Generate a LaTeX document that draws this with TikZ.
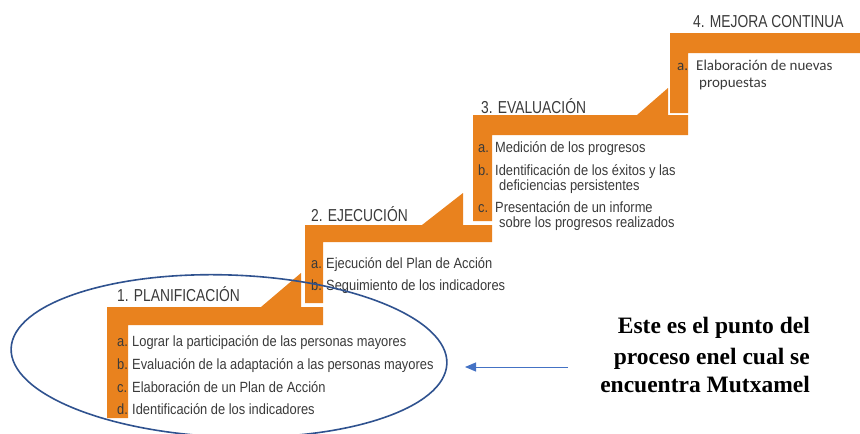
\documentclass[tikz,border=0pt]{standalone}
\usepackage{fontspec}
\setmainfont{Liberation Sans}
\newfontfamily\stairfont[FakeStretch=0.87]{Liberation Sans}
\newfontfamily\stairtitlefont[FakeStretch=0.80]{Liberation Sans}
\newfontfamily\lastfont{Carlito}
\newfontfamily\notefont{Liberation Serif}
\usetikzlibrary{arrows.meta}
\definecolor{stairorange}{RGB}{233,130,30}
\definecolor{stairtext}{RGB}{58,58,58}
\definecolor{ovalblue}{RGB}{47,82,143}
\definecolor{arrowblue}{RGB}{68,114,196}
\begin{document}
\begin{tikzpicture}[
        x=1pt, y=-1pt,
        stair/.style={fill=stairorange, draw=none},
        steptitle/.style={anchor=base west, inner sep=0, text=stairtext, font=\stairtitlefont\fontsize{17.3}{17.3}\selectfont},
        item/.style={anchor=base west, inner sep=0, text=stairtext, font=\stairfont\fontsize{14.8}{14.8}\selectfont},
        lastitem/.style={anchor=base west, inner sep=0, text=stairtext, font=\lastfont\fontsize{15}{15}\selectfont},
        note/.style={anchor=base east, inner sep=0, font=\notefont\bfseries\fontsize{23.5}{23.5}\selectfont},
        oval/.style={draw=ovalblue, line width=1.6pt},
        pointer/.style={draw=arrowblue, line width=1pt, -{Triangle[length=11pt, width=9pt]}}
    ]
        \useasboundingbox (0,0) rectangle (860,434);

        % the four steps of the stair
        \fill[stair] (107,307) -- (323,307) -- (323,325) -- (128,325) -- (128,418) -- (107,418) -- cycle;
        \fill[stair] (305,225) -- (492,225) -- (492,242) -- (323,242) -- (323,303) -- (305,303) -- cycle;
        \fill[stair] (473,115) -- (688,115) -- (688,135) -- (492,135) -- (492,221) -- (473,221) -- cycle;
        \fill[stair] (670,33) -- (860,33) -- (860,53) -- (688,53) -- (688,113) -- (670,113) -- cycle;

        % small risers
        \foreach \xa/\xb/\ya/\yb in {261/301/307/273, 422/463/225/193, 637/668/115/88} {
            \fill[stair] (\xa,\ya) -- (\xb,\ya) -- (\xb,\yb) -- cycle;
        }

        % titles
        \node[steptitle] (plan) at (117,301) {1. PLANIFICACIÓN};
        \node[steptitle] (ejec) at (311,221) {2. EJECUCIÓN};
        \node[steptitle] (eval) at (481,113) {3. EVALUACIÓN};
        \node[steptitle] (mejora) at (693,27) {4. MEJORA CONTINUA};

        % step 1
        \foreach \n/\y/\txt in {
            a/346/{Lograr la participación de las personas mayores},
            b/369/{Evaluación de la adaptación a las personas mayores},
            c/392/{Elaboración de un Plan de Acción},
            d/414/{Identificación de los indicadores}
        } {
            \node[item] (plan-\n) at (117,\y) {\n.};
            \node[item] (plan-\n-text) at (132,\y) {\txt};
        }

        % step 2
        \foreach \n/\y/\txt in {
            a/268/{Ejecución del Plan de Acción},
            b/290/{Seguimiento de los indicadores}
        } {
            \node[item] (ejec-\n) at (311,\y) {\n.};
            \node[item] (ejec-\n-text) at (326,\y) {\txt};
        }

        % step 3
        \foreach \n/\y/\txt in {
            a/152/{Medición de los progresos},
            b/175/{Identificación de los éxitos y las},
            c/212/{Presentación de un informe}
        } {
            \node[item] (eval-\n) at (478,\y) {\n.};
            \node[item] (eval-\n-text) at (495,\y) {\txt};
        }
        \node[item] (eval-b-more) at (499,190) {deficiencias persistentes};
        \node[item] (eval-c-more) at (499,227) {sobre los progresos realizados};

        % step 4
        \node[lastitem] (mejora-a) at (677,70) {a.};
        \node[lastitem] (mejora-a-text) at (696,70) {Elaboración de nuevas};
        \node[lastitem] (mejora-a-more) at (699,87) {propuestas};

        % where Mutxamel is
        \draw[oval, rotate around={-2:(229,356)}] (229,356) ellipse [x radius=218pt, y radius=81pt];
        \node[note] (note-1) at (810,333) {Este es el punto del};
        \node[note] (note-2) at (810,364) {proceso enel cual se};
        \node[note] (note-3) at (810,392) {encuentra Mutxamel};
        \coordinate (arrow-start) at (568,367);
        \coordinate (arrow-end) at (465,367);
        \draw[pointer] (arrow-start) -- (arrow-end);
    \end{tikzpicture}
\end{document}
